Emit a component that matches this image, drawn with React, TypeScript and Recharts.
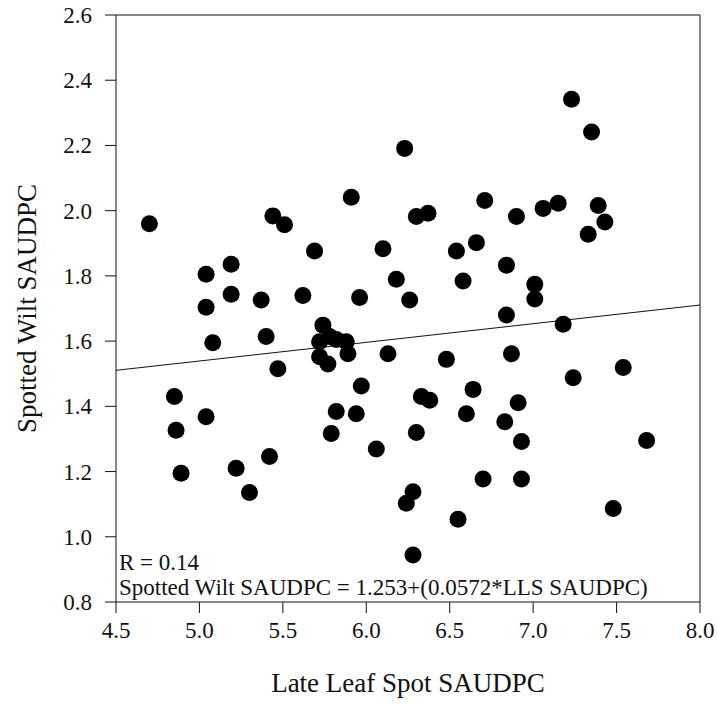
import React from 'react'
import {
  ScatterChart,
  Scatter,
  XAxis,
  YAxis,
  ReferenceLine,
  Label,
  Customized,
} from 'recharts'

// Late Leaf Spot SAUDPC (x) vs Spotted Wilt SAUDPC (y)
const llsValues = [
  4.70, 5.04, 5.19, 5.04, 5.19, 5.37, 5.44, 5.51, 5.69, 5.62,
  5.91, 5.96, 6.10, 6.23, 6.18, 6.26, 7.23, 7.35, 6.30, 6.37,
  6.71, 6.90, 7.06, 7.15, 7.39, 7.43, 7.33, 6.54, 6.66, 6.58,
  6.84, 7.01, 7.01, 6.84, 7.18, 5.74, 5.78, 5.72, 5.88, 5.72,
  5.77, 5.89, 6.13, 5.08, 5.40, 5.47, 4.85, 4.86, 4.89, 5.04,
  5.22, 5.30, 5.42, 5.97, 5.82, 5.94, 5.79, 6.06, 6.24, 6.28,
  6.28, 6.48, 6.87, 7.24, 7.54, 6.33, 6.38, 6.64, 6.60, 6.91,
  6.83, 6.93, 6.30, 7.68, 6.70, 6.93, 6.55, 7.48, 5.82,
]
const swValues = [
  1.960, 1.805, 1.836, 1.704, 1.744, 1.726, 1.984, 1.957, 1.876, 1.740,
  2.041, 1.734, 1.883, 2.191, 1.790, 1.726, 2.342, 2.241, 1.982, 1.992,
  2.031, 1.982, 2.007, 2.023, 2.016, 1.965, 1.928, 1.876, 1.902, 1.784,
  1.833, 1.774, 1.729, 1.680, 1.652, 1.649, 1.614, 1.598, 1.598, 1.552,
  1.530, 1.561, 1.561, 1.595, 1.614, 1.515, 1.430, 1.327, 1.195, 1.368,
  1.210, 1.136, 1.246, 1.462, 1.384, 1.377, 1.317, 1.269, 1.103, 1.138,
  0.944, 1.544, 1.561, 1.488, 1.519, 1.430, 1.419, 1.452, 1.377, 1.411,
  1.353, 1.292, 1.320, 1.295, 1.177, 1.177, 1.054, 1.087, 1.605,
]

const xTicks = [4.5, 5.0, 5.5, 6.0, 6.5, 7.0, 7.5, 8.0]
const yTicks = [0.8, 1.0, 1.2, 1.4, 1.6, 1.8, 2.0, 2.2, 2.4, 2.6]

const intercept = 1.253
const slope = 0.0572
const fitEnds = [4.5, 8.0]

const points = llsValues.map((x, i) => ({ x, y: swValues[i] }))
const fitSegment = fitEnds.map(x => ({ x, y: intercept + slope * x }))

const FONT = "'Liberation Serif', 'Times New Roman', serif"
const INK = '#111'

const renderXTick = ({ x, y, payload }: any) => (
  <text
    x={x}
    y={y}
    dy={17}
    textAnchor="middle"
    fontSize={23}
    fill={INK}
    style={{ fontFamily: FONT }}
  >
    {Number(payload.value).toFixed(1)}
  </text>
)

const renderYTick = ({ x, y, payload }: any) => (
  <text
    x={x}
    y={y}
    dy={8}
    textAnchor="end"
    fontSize={23}
    fill={INK}
    style={{ fontFamily: FONT }}
  >
    {Number(payload.value).toFixed(1)}
  </text>
)

const Dot = (props: any) => (
  <circle cx={props.cx} cy={props.cy} r={8.5} fill="#000" />
)

const Notes = (props: any) => {
  const off = props.offset || { left: 116, top: 15, height: 587 }
  const left = off.left + 3
  const bottom = off.top + off.height
  return (
    <g style={{ fontFamily: FONT }} fill={INK} fontSize={23}>
      <text x={left} y={bottom - 32}>R = 0.14</text>
      <text x={left} y={bottom - 7}>Spotted Wilt SAUDPC = 1.253+(0.0572*LLS SAUDPC)</text>
    </g>
  )
}

export default function App() {
  return (
    <div style={{ position: 'absolute', left: 0, top: 0, background: '#fff' }}>
      <style>{`.recharts-wrapper text { font-family: ${FONT}; }`}</style>
      <ScatterChart
        width={717}
        height={704}
        margin={{ top: 15, right: 17, bottom: 42, left: 16 }}
      >
        <XAxis
          type="number"
          dataKey="x"
          domain={[4.5, 8.0]}
          ticks={xTicks}
          height={60}
          tickSize={11}
          tickMargin={8}
          tick={renderXTick}
          stroke={INK}
          allowDataOverflow
        >
          <Label
            content={({ viewBox }: any) => (
              <text
                x={viewBox.x + viewBox.width / 2}
                y={viewBox.y + 90}
                textAnchor="middle"
                fontSize={27}
                fill={INK}
                style={{ fontFamily: FONT }}
              >
                Late Leaf Spot SAUDPC
              </text>
            )}
          />
        </XAxis>
        <YAxis
          type="number"
          dataKey="y"
          domain={[0.8, 2.6]}
          ticks={yTicks}
          width={100}
          tickSize={11}
          tickMargin={13}
          tick={renderYTick}
          stroke={INK}
          allowDataOverflow
        >
          <Label
            content={({ viewBox }: any) => {
              const cx = viewBox.x + 11
              const cy = viewBox.y + viewBox.height / 2
              return (
                <text
                  x={cx}
                  y={cy}
                  textAnchor="middle"
                  dominantBaseline="central"
                  transform={`rotate(-90, ${cx}, ${cy})`}
                  fontSize={27}
                  fill={INK}
                  style={{ fontFamily: FONT }}
                >
                  Spotted Wilt SAUDPC
                </text>
              )
            }}
          />
        </YAxis>
        <ReferenceLine y={2.6} stroke={INK} strokeWidth={1} />
        <ReferenceLine x={8.0} stroke={INK} strokeWidth={1} />
        <ReferenceLine
          segment={fitSegment}
          stroke={INK}
          strokeWidth={1}
        />
        <Scatter
          data={points}
          fill="#000"
          shape={Dot}
          isAnimationActive={false}
        />
        <Customized component={Notes} />
      </ScatterChart>
    </div>
  )
}
